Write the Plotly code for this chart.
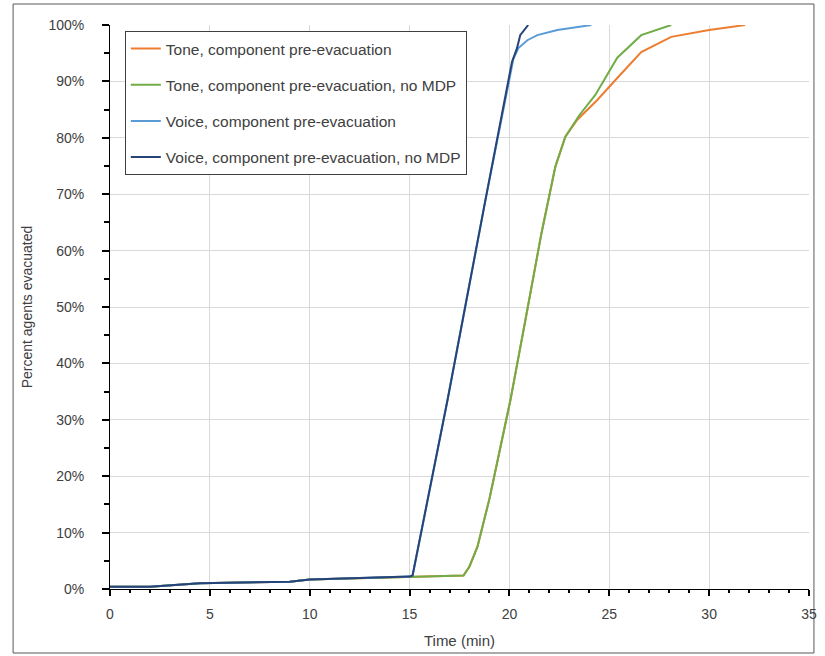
import plotly.graph_objects as go

# ---- data ----
tone_t = [0, 2, 4.5, 9, 10, 15, 17.7, 18.0, 18.4, 19.0, 20.05, 20.8, 21.6, 22.3, 22.8,
          23.4, 24.4, 25.4, 26.6, 28.1, 30.0, 31.8]
tone_p = [0.4, 0.4, 1.0, 1.3, 1.7, 2.2, 2.4, 4.0, 7.5, 16.0, 33.5, 47.7, 63.0, 74.9, 80.2,
          83.2, 86.7, 90.6, 95.2, 97.9, 99.1, 100.0]

tone_nomdp_t = [0, 2, 4.5, 9, 10, 15, 17.7, 18.0, 18.4, 19.0, 20.05, 20.8, 21.6, 22.3, 22.8,
                23.5, 24.3, 25.4, 26.6, 28.1]
tone_nomdp_p = [0.4, 0.4, 1.0, 1.3, 1.7, 2.2, 2.4, 4.0, 7.5, 16.0, 33.5, 47.7, 63.0, 74.9, 80.2,
                84.0, 87.6, 94.2, 98.2, 100.0]

voice_t = [0, 2, 4.5, 9, 10, 15, 15.15, 16.9, 18.8, 20.2, 20.45, 20.9, 21.4, 22.4, 24.1]
voice_p = [0.4, 0.4, 1.0, 1.3, 1.7, 2.2, 2.4, 33.5, 69.0, 94.0, 95.9, 97.3, 98.2, 99.1, 100.0]

voice_nomdp_t = [0, 2, 4.5, 9, 10, 15, 15.15, 16.9, 18.8, 20.13, 20.38, 20.54, 20.94]
voice_nomdp_p = [0.4, 0.4, 1.0, 1.3, 1.7, 2.2, 2.4, 33.5, 69.0, 93.5, 95.9, 98.2, 100.0]

names = ["Tone, component pre-evacuation",
         "Tone, component pre-evacuation, no MDP",
         "Voice, component pre-evacuation",
         "Voice, component pre-evacuation, no MDP"]
colors = ["#ED7D31", "#70AD47", "#5B9BD5", "#264478"]
series = [(tone_t, tone_p), (tone_nomdp_t, tone_nomdp_p),
          (voice_t, voice_p), (voice_nomdp_t, voice_nomdp_p)]

x_range = [0, 35]
y_range = [0, 100]

FONT = "Liberation Sans"
TXT = "#404040"

fig = go.Figure()
for i, ((t, p), n, c) in enumerate(zip(series, names, colors)):
    fig.add_trace(go.Scatter(x=t, y=p, mode="lines", name=n,
                             line=dict(color=c, width=2), legendgroup=f"g{i}"))

W, H = 825, 656
L, R, T, B = 110, 8, 25, 67
pw, ph = W - L - R, H - T - B

def px_x(px):
    return (px - L) / pw

def px_y(py):
    return (H - B - py) / ph

fig.update_layout(
    width=W, height=H,
    margin=dict(l=L, r=R, t=T, b=B, pad=0),
    paper_bgcolor="white", plot_bgcolor="white",
    font=dict(family=FONT, size=14, color=TXT),
    showlegend=True,
    legend=dict(x=px_x(125), y=px_y(31), xanchor="left", yanchor="top",
                bordercolor="#404040", borderwidth=1, bgcolor="white",
                font=dict(size=15.5, color=TXT, family=FONT),
                tracegroupgap=13, traceorder="grouped"),
    xaxis=dict(range=x_range, dtick=5, tick0=0, showgrid=True, gridcolor="#D9D9D9", gridwidth=1,
               showline=True, linecolor="black", linewidth=1, zeroline=False,
               ticks="outside", ticklen=6, tickcolor="black", tickwidth=2,
               minor=dict(dtick=1, ticks="outside", ticklen=3, tickcolor="black", showgrid=False),
               tickfont=dict(size=14, color=TXT), ticklabelstandoff=6,
               title=dict(text="Time (min)", font=dict(size=15, color=TXT), standoff=14)),
    yaxis=dict(range=y_range, dtick=10, tick0=0, ticksuffix="%", showgrid=True,
               gridcolor="#D9D9D9", gridwidth=1,
               showline=True, linecolor="black", linewidth=1, zeroline=False,
               ticks="outside", ticklen=7, tickcolor="black", tickwidth=2,
               minor=dict(dtick=5, ticks="outside", ticklen=5, tickcolor="black", showgrid=False),
               tickfont=dict(size=14, color=TXT), ticklabelstandoff=15,
               title=dict(text="Percent agents evacuated", font=dict(size=14, color=TXT), standoff=12)),
    xaxis2=dict(range=x_range, overlaying="x", anchor="y", side="bottom", dtick=5, tick0=0,
                showgrid=False, showline=False, zeroline=False, showticklabels=False,
                ticks="inside", ticklen=8, tickcolor="black", tickwidth=2),
    yaxis2=dict(range=y_range, overlaying="y", anchor="x", side="left", dtick=10, tick0=0,
                showgrid=False, showline=False, zeroline=False, showticklabels=False,
                ticks="inside", ticklen=5, tickcolor="black", tickwidth=2),
    shapes=[dict(type="rect", xref="paper", yref="paper",
                 x0=px_x(12), x1=px_x(822), y0=px_y(653), y1=px_y(4),
                 line=dict(color="#595959", width=1), fillcolor="rgba(0,0,0,0)", layer="below")],
)

fig.write_html("out.html")
